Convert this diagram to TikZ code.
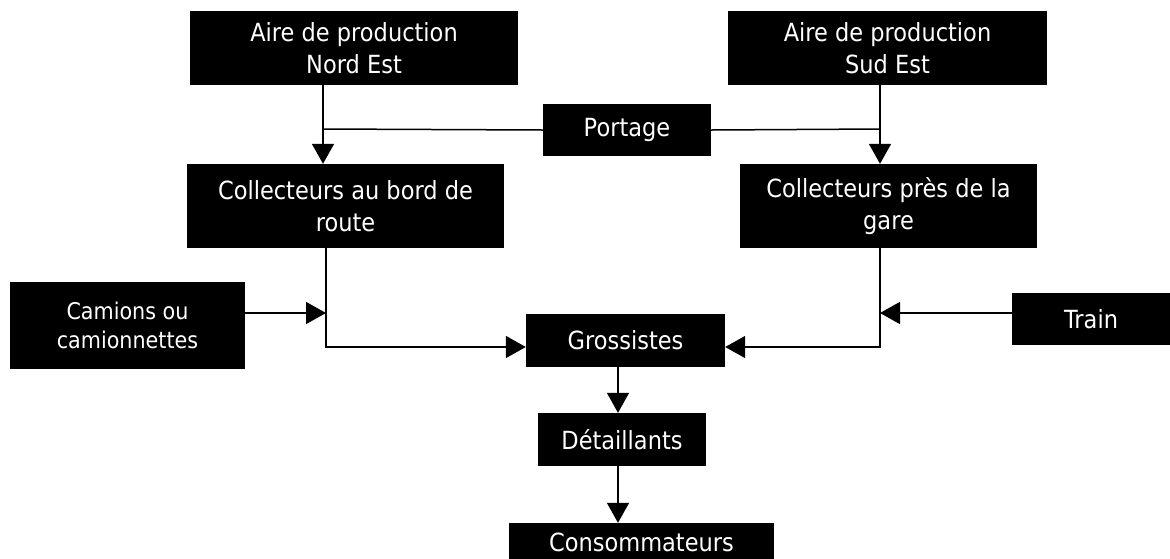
\documentclass[tikz,border=0pt]{standalone}
\usepackage{fontspec}
\setmainfont{DejaVu Sans}[FakeStretch=0.9]
\usetikzlibrary{arrows.meta}
\tikzset{
  blk/.style={fill=black, text=white, inner sep=0pt, align=center,
    font=\fontsize{25}{32}\selectfont},
  arr/.style={line width=1.5pt, -{Triangle[length=20pt,width=22pt]}},
  ln/.style={line width=1.5pt},
}
\begin{document}
\begin{tikzpicture}[x=1pt,y=-1pt]
\useasboundingbox (0,0) rectangle (1170,558);
\node[blk, minimum width=328pt, minimum height=74pt] (ne) at (354,48) {Aire de production\\Nord Est};
\node[blk, minimum width=319pt, minimum height=74pt] (se) at (887.5,48) {Aire de production\\Sud Est};
\node[blk, minimum width=168pt, minimum height=52pt] (por) at (627,130) {Portage};
\node[blk, minimum width=317pt, minimum height=84pt] (cr) at (345.5,206) {Collecteurs au bord de\\route};
\node[blk, minimum width=297pt, minimum height=84pt] (cg) at (888.5,206) {Collecteurs près de la\\gare};
\node[blk, minimum width=235pt, minimum height=87pt, font=\fontsize{23}{29}\selectfont] (cam) at (127.5,325.5) {Camions ou\\camionnettes};
\node[blk, minimum width=158pt, minimum height=52pt] (tr) at (1091,319) {Train};
\node[blk, minimum width=199pt, minimum height=53pt] (gr) at (625.5,340.5) {Grossistes};
\node[blk, minimum width=168pt, minimum height=53pt] (det) at (622,439.5) {Détaillants};
\node[blk, minimum width=265pt, minimum height=38pt] (con) at (641.5,542) {Consommateurs};

\coordinate (xl) at (323,129);
\coordinate (xr) at (880,129);
\coordinate (xll) at (326,313);
\coordinate (yb) at (0,347);
\coordinate (xc) at (618,0);

\draw[arr] (ne.south -| xl) -- (cr.north -| xl);
\draw[arr] (se.south -| xr) -- (cg.north -| xr);
\draw[ln] (por.west) -- (xl);
\draw[ln] (por.east) -- (xr);
\draw[arr] (cr.south -| xll) -- (yb -| xll) -- (yb -| gr.west);
\draw[arr] (cam.east |- xll) -- (xll);
\draw[arr] (cg.south -| xr) -- (yb -| xr) -- (yb -| gr.east);
\draw[arr] (tr.west |- xll) -- (xll -| xr);
\draw[arr] (gr.south -| xc) -- (det.north -| xc);
\draw[arr] (det.south -| xc) -- (con.north -| xc);
\end{tikzpicture}
\end{document}
